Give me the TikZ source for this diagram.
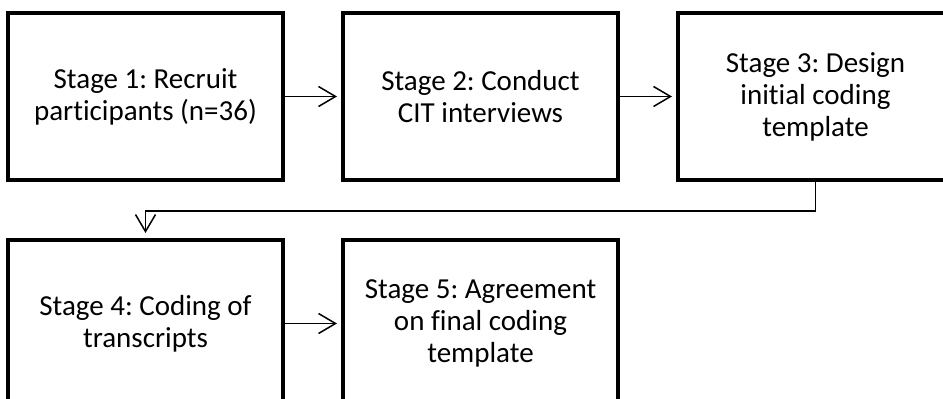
\documentclass[tikz,border=0pt]{standalone}
\usepackage{fontspec}
\setmainfont{Carlito}[Ligatures=CommonOff]
\frenchspacing
\usetikzlibrary{arrows.meta,positioning}

\begin{document}
\begin{tikzpicture}[->,>={Straight Barb[length=17pt,width=20pt]},shorten >=4pt,
  node distance=56pt and 56pt,line width=1.5pt,
  main node/.style={rectangle,draw,line width=4pt,minimum width=275pt,minimum height=167pt,
    align=center,font=\fontsize{29}{32}\selectfont}]

  \useasboundingbox (0,0) rectangle (943pt,-399pt);
  \clip (0,0) rectangle (943pt,-399pt);

  \node[main node] (1) at (145.5pt,-96.5pt) {Stage 1: Recruit\\participants (n=36)};
  \node[main node] (2) [right=of 1] {Stage 2: Conduct\\CIT interviews};
  \node[main node] (3) [right=of 2] {Stage 3: Design\\initial coding\\template};
  \node[main node] (4) [below=of 1] {Stage 4: Coding of\\transcripts};
  \node[main node] (5) [right=of 4] {Stage 5: Agreement\\on final coding\\template};

  \path
    (1) edge (2)
    (2) edge (3)
    (4) edge (5);
  \draw[shorten >=5pt] (3.south) -- ++(0,-29pt) -| (4.north);
\end{tikzpicture}
\end{document}
